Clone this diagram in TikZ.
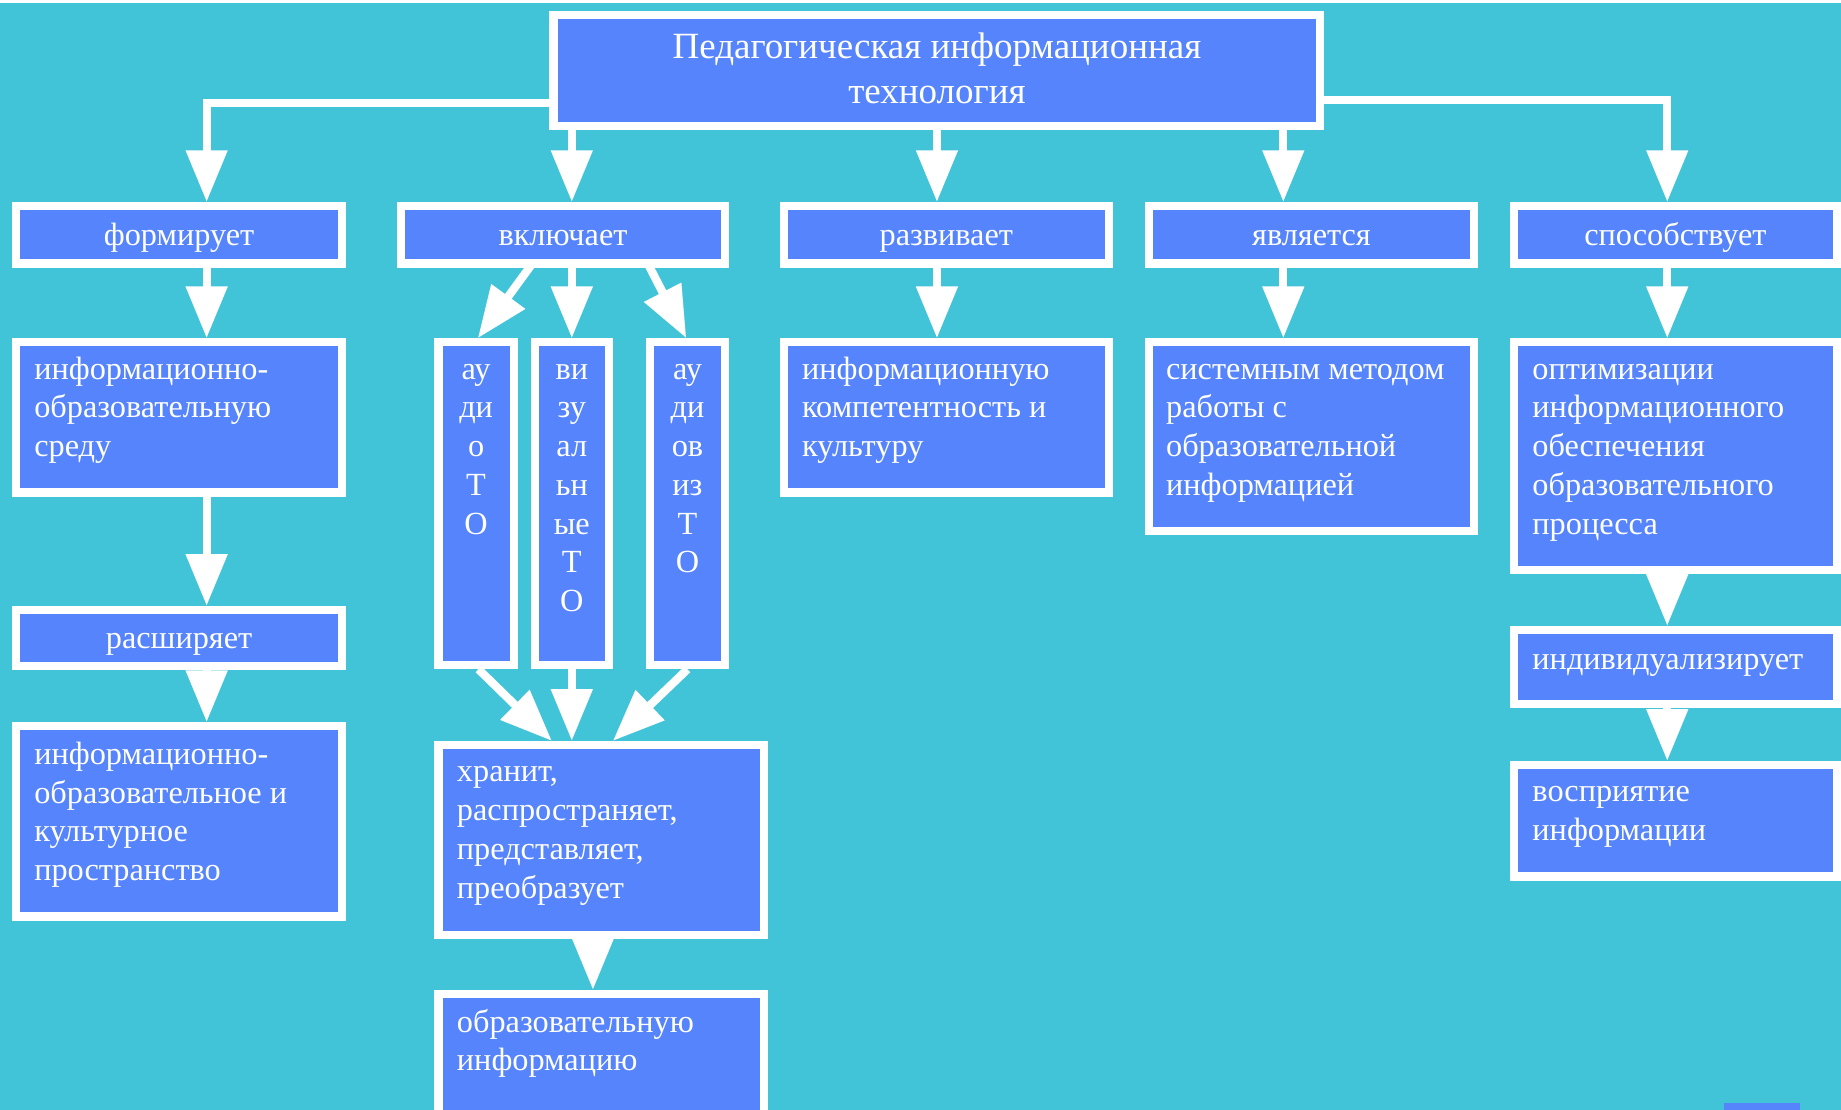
\documentclass[tikz,border=0pt]{standalone}
\usepackage{fontspec}
\setmainfont{Liberation Serif}
\usetikzlibrary{arrows.meta,shadows,calc}
\definecolor{bgc}{RGB}{66,196,216}
\definecolor{boxc}{RGB}{86,132,252}
\begin{document}
\begin{tikzpicture}[x=1pt,y=-1pt,
  box/.style={draw=white, line width=7pt, fill=boxc, text=white, inner sep=0pt,
    font=\fontsize{27.5}{33}\selectfont,
    drop shadow={shadow xshift=3pt, shadow yshift=-3pt, opacity=0.15, fill=black}},
  one/.style={text height=22pt, text depth=4pt},
  txt/.style={text=white, inner sep=0pt, align=flush left, text width=262pt, anchor=base west,
    font=\fontsize{27.5}{33}\selectfont},
  vtxt/.style={text=white, inner sep=0pt, align=flush center, text width=60pt, anchor=base,
    font=\fontsize{27.5}{33}\selectfont},
  arr/.style={draw=white, line width=7pt, -{Triangle[width=34pt,length=44pt]}}]
\useasboundingbox (0,0) rectangle (1568,945);
\clip (0,0) rectangle (1568,945);
\fill[bgc] (0,0) rectangle (1568,945);
\fill[white] (0,0) rectangle (1568,2.3);
\fill[boxc] (1468,939) rectangle (1533,950);

% top
\node[box, minimum width=653pt, minimum height=95pt,
  font=\fontsize{31.5}{38}\selectfont] (top) at (798,60)
  {\raisebox{2pt}[\height][\depth]{\parbox{640pt}{\centering Педагогическая информационная\\технология}}};

% row 2
\node[box, one, minimum width=278pt, minimum height=49pt] (form) at (152.5,200) {формирует};
\node[box, one, minimum width=276pt, minimum height=49pt] (vkl) at (479.5,200) {включает};
\node[box, one, minimum width=277pt, minimum height=49pt] (razv) at (806,200) {развивает};
\node[box, one, minimum width=277pt, minimum height=49pt] (yavl) at (1117,200) {является};
\node[box, one, minimum width=275pt, minimum height=49pt] (spos) at (1427,200) {способствует};

% row 3
\node[box, minimum width=278pt, minimum height=128pt] (sreda) at (152.5,355.5) {};
\node[box, minimum width=64pt, minimum height=275pt] (aud) at (405.5,429) {};
\node[box, minimum width=63pt, minimum height=275pt] (vis) at (487,429) {};
\node[box, minimum width=64pt, minimum height=275pt] (avz) at (585.5,429) {};
\node[box, minimum width=277pt, minimum height=128pt] (komp) at (806,355.5) {};
\node[box, minimum width=277pt, minimum height=161pt] (sist) at (1117,372) {};
\node[box, minimum width=275pt, minimum height=194pt] (opt) at (1427,388.5) {};

% lower
\node[box, one, minimum width=278pt, minimum height=48pt] (rassh) at (152.5,543.5) {расширяет};
\node[box, minimum width=278pt, minimum height=162pt] (prostr) at (152.5,699.5) {};
\node[box, minimum width=277pt, minimum height=162pt] (hran) at (512,715.5) {};
\node[box, minimum width=277pt, minimum height=135pt] (obr) at (512,914) {};
\node[box, minimum width=275pt, minimum height=63pt] (indiv) at (1427,568) {};
\node[box, minimum width=275pt, minimum height=95pt] (vospr) at (1427,699) {};

% texts
\node[txt] (t-sreda) at ([xshift=19pt,yshift=-35pt]sreda.north west) {информационно-\\образовательную\\среду};
\node[txt] (t-komp) at ([xshift=19pt,yshift=-35pt]komp.north west) {информационную\\компетентность и\\культуру};
\node[txt] (t-sist) at ([xshift=18pt,yshift=-35pt]sist.north west) {системным методом\\работы с\\образовательной\\информацией};
\node[txt] (t-opt) at ([xshift=19pt,yshift=-35pt]opt.north west) {оптимизации\\информационного\\обеспечения\\образовательного\\процесса};
\node[txt] (t-prostr) at ([xshift=19pt,yshift=-36pt]prostr.north west) {информационно-\\образовательное и\\культурное\\пространство};
\node[txt] (t-hran) at ([xshift=19pt,yshift=-35pt]hran.north west) {хранит,\\распространяет,\\представляет,\\преобразует};
\node[txt] (t-obr) at ([xshift=19pt,yshift=-36pt]obr.north west) {образовательную\\информацию};
\node[txt] (t-indiv) at ([xshift=19pt,yshift=-37pt]indiv.north west) {индивидуализирует};
\node[txt] (t-vospr) at ([xshift=19pt,yshift=-35pt]vospr.north west) {восприятие\\информации};
\node[vtxt] (t-aud) at ([yshift=-35pt]aud.north) {ау\\ди\\о\\Т\\О};
\node[vtxt] (t-vis) at ([yshift=-35pt]vis.north) {ви\\зу\\ал\\ьн\\ые\\Т\\О};
\node[vtxt] (t-avz) at ([yshift=-35pt]avz.north) {ау\\ди\\ов\\из\\Т\\О};

% connectors from top
\draw[arr] ([yshift=-28pt]top.west) -| ([xshift=23.5pt]form.north);
\draw[arr] (top.south -| vis.north) -- (vkl.north -| vis.north);
\draw[arr] (top.south) -- (top.south |- razv.north);
\draw[arr] ([xshift=-24pt]yavl.north |- top.south) -- ([xshift=-24pt]yavl.north);
\draw[arr] ([yshift=-25pt]top.east) -| ([xshift=-7pt]spos.north);

% left column
\draw[arr] ([xshift=23.5pt]form.south) -- ([xshift=23.5pt]sreda.north);
\draw[arr] ([xshift=23.5pt]sreda.south) -- ([xshift=23.5pt]rassh.north);
\draw[arr] ([xshift=23.5pt]rassh.south) -- ([xshift=23.5pt]prostr.north);

% include column
\draw[arr] ([xshift=-26.5pt,yshift=3pt]vkl.south) -- ([xshift=1.5pt]aud.north);
\draw[arr] (vkl.south -| vis.north) -- (vis.north);
\draw[arr] ([xshift=72.5pt,yshift=3pt]vkl.south) -- ([xshift=-1pt]avz.north);
\draw[arr] ([xshift=2pt]aud.south) -- ([xshift=-42pt]hran.north);
\draw[arr] (vis.south) -- (hran.north -| vis.south);
\draw[arr] (avz.south) -- ([xshift=10pt]hran.north);
\draw[arr] ([xshift=-7pt]hran.south) -- ([xshift=-7pt]obr.north);

% other columns
\draw[arr] ([xshift=-8pt]razv.south) -- ([xshift=-8pt]komp.north);
\draw[arr] ([xshift=-24pt]yavl.south) -- ([xshift=-24pt]sist.north);
\draw[arr] ([xshift=-7pt]spos.south) -- ([xshift=-7pt]opt.north);
\draw[arr] ([xshift=-7pt]opt.south) -- ([xshift=-7pt]indiv.north);
\draw[arr] ([xshift=-7pt]indiv.south) -- ([xshift=-7pt]vospr.north);
\end{tikzpicture}
\end{document}
